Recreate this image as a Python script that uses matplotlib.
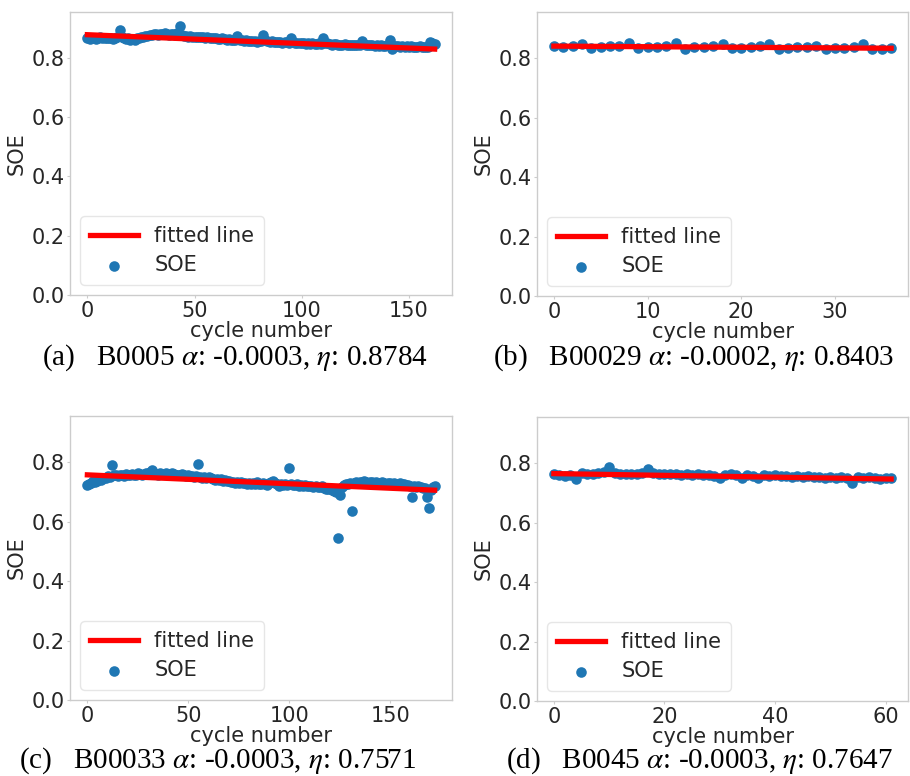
import numpy as np
import matplotlib
matplotlib.use('Agg')
import matplotlib.pyplot as plt

# SOE per cycle for each battery
soe_b0005 = [
    0.866, 0.864, 0.867, 0.868, 0.865, 0.866, 0.869, 0.866, 0.868, 0.867,
    0.866, 0.868, 0.865, 0.867, 0.870, 0.893, 0.871, 0.867, 0.864, 0.866,
    0.862, 0.865, 0.860, 0.866, 0.868, 0.870, 0.872, 0.874, 0.873, 0.876,
    0.878, 0.880, 0.881, 0.879, 0.882, 0.880, 0.883, 0.881, 0.879, 0.882,
    0.880, 0.878, 0.884, 0.908, 0.877, 0.875, 0.874, 0.872, 0.873, 0.871,
    0.872, 0.870, 0.871, 0.869, 0.870, 0.868, 0.869, 0.867, 0.866, 0.868,
    0.866, 0.865, 0.864, 0.866, 0.863, 0.862, 0.864, 0.861, 0.862, 0.860,
    0.874, 0.861, 0.859, 0.858, 0.860, 0.857, 0.858, 0.856, 0.857, 0.855,
    0.856, 0.858, 0.876, 0.860, 0.857, 0.855, 0.856, 0.854, 0.855, 0.853,
    0.854, 0.852, 0.853, 0.855, 0.851, 0.866, 0.853, 0.850, 0.852, 0.849,
    0.851, 0.850, 0.848, 0.849, 0.847, 0.850, 0.848, 0.846, 0.849, 0.847,
    0.868, 0.852, 0.849, 0.847, 0.845, 0.848, 0.846, 0.844, 0.845, 0.843,
    0.846, 0.844, 0.845, 0.843, 0.844, 0.842, 0.845, 0.843, 0.857, 0.847,
    0.845, 0.843, 0.844, 0.842, 0.840, 0.843, 0.841, 0.842, 0.840, 0.841,
    0.843, 0.862, 0.829, 0.839, 0.841, 0.840, 0.838, 0.839, 0.837, 0.840,
    0.838, 0.839, 0.837, 0.838, 0.836, 0.839, 0.837, 0.838, 0.836, 0.838,
    0.855, 0.849, 0.846,
]
soe_b0029 = [
    0.840, 0.838, 0.841, 0.848, 0.834,
    0.837, 0.839, 0.841, 0.850, 0.833,
    0.836, 0.838, 0.840, 0.851, 0.832,
    0.836, 0.838, 0.840, 0.849, 0.833,
    0.835, 0.837, 0.839, 0.848, 0.832,
    0.834, 0.836, 0.837, 0.841, 0.831,
    0.833, 0.835, 0.837, 0.846, 0.829,
    0.832, 0.833,
]
soe_b0033 = [
    0.724, 0.728, 0.731, 0.735, 0.733, 0.738, 0.742, 0.740, 0.745, 0.748,
    0.752, 0.750, 0.790, 0.755, 0.757, 0.753, 0.758, 0.756, 0.754, 0.759,
    0.757, 0.755, 0.760, 0.758, 0.756, 0.762, 0.759, 0.757, 0.761, 0.764,
    0.760, 0.766, 0.775, 0.762, 0.760, 0.758, 0.763, 0.761, 0.759, 0.762,
    0.760, 0.757, 0.762, 0.759, 0.756, 0.758, 0.755, 0.760, 0.757, 0.754,
    0.756, 0.752, 0.754, 0.751, 0.753, 0.795, 0.750, 0.748, 0.751, 0.747,
    0.749, 0.745, 0.743, 0.741, 0.744, 0.740, 0.742, 0.738, 0.740, 0.737,
    0.735, 0.732, 0.734, 0.731, 0.733, 0.730, 0.732, 0.729, 0.731, 0.728,
    0.730, 0.727, 0.729, 0.726, 0.732, 0.728, 0.725, 0.729, 0.727, 0.724,
    0.730, 0.733, 0.736, 0.731, 0.725, 0.720, 0.728, 0.724, 0.726, 0.723,
    0.779, 0.727, 0.724, 0.722, 0.725, 0.721, 0.723, 0.720, 0.722, 0.718,
    0.721, 0.719, 0.716, 0.720, 0.717, 0.715, 0.718, 0.714, 0.711, 0.708,
    0.712, 0.706, 0.704, 0.701, 0.545, 0.688, 0.716, 0.722, 0.725, 0.727,
    0.729, 0.634, 0.730, 0.733, 0.731, 0.734, 0.732, 0.735, 0.733, 0.731,
    0.734, 0.732, 0.730, 0.733, 0.731, 0.729, 0.732, 0.730, 0.728, 0.731,
    0.729, 0.727, 0.730, 0.728, 0.726, 0.729, 0.725, 0.727, 0.724, 0.722,
    0.718, 0.681, 0.720, 0.717, 0.719, 0.716, 0.714, 0.712, 0.682, 0.644,
    0.705, 0.715, 0.718,
]
soe_b0045 = [
    0.762, 0.760, 0.758, 0.761, 0.748, 0.766, 0.763, 0.765, 0.768, 0.770,
    0.787, 0.766, 0.763, 0.765, 0.762, 0.764, 0.766, 0.780, 0.767, 0.763,
    0.765, 0.762, 0.764, 0.761, 0.763, 0.760, 0.762, 0.759, 0.761, 0.758,
    0.750, 0.760, 0.762, 0.759, 0.749, 0.761, 0.758, 0.750, 0.760, 0.757,
    0.759, 0.755, 0.757, 0.754, 0.756, 0.753, 0.755, 0.752, 0.754, 0.751,
    0.753, 0.750, 0.752, 0.751, 0.734, 0.754, 0.749, 0.752, 0.750, 0.748,
    0.751, 0.749,
]

# fitted slope (alpha) and intercept (eta) per battery
names = ['B0005', 'B00029', 'B00033', 'B0045']
alphas = [-0.0003, -0.0002, -0.0003, -0.0003]
etas = [0.8784, 0.8403, 0.7571, 0.7647]
panel_tags = ['(a)', '(b)', '(c)', '(d)']

TEXT = '#262626'
GRID = '#cccccc'


def plot_panel(fig, rect, soe, alpha, eta, caption, cap_x, cap_y):
  ax = fig.add_axes(rect)
  cycles = np.arange(len(soe))
  fitted = eta + alpha * cycles

  ax.plot(cycles, fitted, color='red', linewidth=3.8, label='fitted line',
          zorder=3)
  ax.scatter(cycles, soe, s=58, color='#1f77b4', label='SOE', zorder=2,
             linewidths=0)

  ax.set_ylim(0, 0.955)
  ax.set_yticks([0.0, 0.2, 0.4, 0.6, 0.8])
  ax.set_xlabel('cycle number', fontsize=15, color=TEXT, labelpad=0)
  ax.set_ylabel('SOE', fontsize=15, color=TEXT, labelpad=3)
  ax.tick_params(labelsize=15, labelcolor=TEXT, color=GRID, length=2.5,
                 pad=1.5)
  for sp in ax.spines.values():
    sp.set_color(GRID)
    sp.set_linewidth(1.0)

  leg = ax.legend(loc='lower left', fontsize=15, scatterpoints=1,
                  handlelength=2.3, borderpad=0.45, labelspacing=0.45,
                  fancybox=True, framealpha=1.0)
  leg.get_frame().set_edgecolor('#e6e6e6')
  for t in leg.get_texts():
    t.set_color(TEXT)

  fig.text(cap_x, cap_y, caption, ha='center', va='baseline', fontsize=21,
           family='Liberation Serif', color='black')
  return ax


def main():
  plt.rcParams['mathtext.fontset'] = 'stix'
  fig = plt.figure(figsize=(9.10, 7.76), dpi=100)
  W, H = 910.0, 776.0

  # axes boxes in pixels: left, top, right, bottom
  boxes = [(70, 12, 452, 295), (537, 12, 908, 296),
           (70, 416, 452, 700), (537, 417, 908, 701)]
  caption_pos = [(235, 365), (694, 365), (218, 768), (699, 768)]
  series = [soe_b0005, soe_b0029, soe_b0033, soe_b0045]

  for i in range(4):
    l, t, r, b = boxes[i]
    rect = [l / W, 1 - b / H, (r - l) / W, (b - t) / H]
    caption = (f"{panel_tags[i]}   {names[i]} $\\alpha$: {alphas[i]:.4f}, "
               f"$\\eta$: {etas[i]:.4f}")
    cx, cy = caption_pos[i]
    plot_panel(fig, rect, series[i], alphas[i], etas[i], caption,
               cx / W, 1 - cy / H)

  fig.savefig('out.png', dpi=100)


if __name__ == "__main__":
  main()
